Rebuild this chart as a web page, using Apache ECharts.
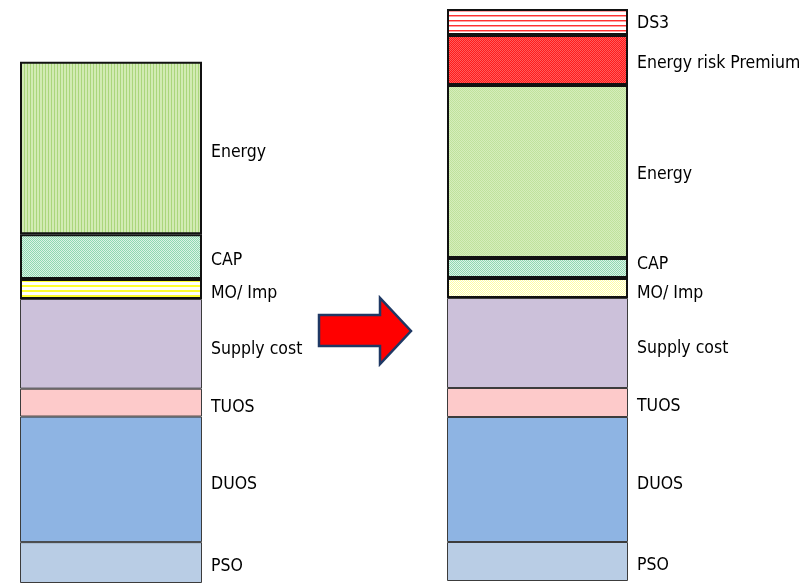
<!DOCTYPE html>
<html>
<head>
<meta charset="utf-8">
<script src="https://cdn.jsdelivr.net/npm/echarts@6/dist/echarts.min.js"></script>
<style>
html,body{margin:0;padding:0;background:#fff;}
#chart{width:812px;height:583px;}
</style>
</head>
<body>
<div id="chart"></div>
<script>
// ---- data (bottom to top) ----
var leftNames  = ['PSO','DUOS','TUOS','Supply cost','MO/ Imp','CAP','Energy'];
var leftValues = [41, 126, 28, 90, 20, 45, 173];
var rightNames  = ['PSO','DUOS','TUOS','Supply cost','MO/ Imp','CAP','Energy','Energy risk Premium','DS3'];
var rightValues = [39, 125, 29, 90, 20, 20, 173, 50, 26];
var barCategories = ['Before','After'];

// ---- styles ----
function pat(w, h, draw) {
  var c = document.createElement('canvas');
  c.width = w; c.height = h;
  var g = c.getContext('2d');
  draw(g);
  return { image: c, repeat: 'repeat' };
}
function checker(a, b) {
  return pat(2, 2, function (g) {
    g.fillStyle = a; g.fillRect(0, 0, 2, 2);
    g.fillStyle = b; g.fillRect(0, 0, 1, 1); g.fillRect(1, 1, 1, 1);
  });
}
var fills = {
  leftEnergy: pat(3, 1, function (g) { g.fillStyle = '#d2ebb4'; g.fillRect(0,0,3,1); g.fillStyle = '#aad67c'; g.fillRect(0,0,1,1); }),
  cap: checker('#dcf3e6', '#8fd8b1'),
  leftMO: pat(1, 5, function (g) { g.fillStyle = '#ffffff'; g.fillRect(0,0,1,5); g.fillStyle = '#ffff30'; g.fillRect(0,0,1,2); }),
  rightEnergy: checker('#d6edbc', '#bfe29c'),
  rightMO: checker('#ffffff', '#ffffa0'),
  erp: checker('#ff1a1a', '#ff5c5c'),
  ds3: pat(1, 5, function (g) { g.fillStyle = '#ffffff'; g.fillRect(0,0,1,5); g.fillStyle = '#ff3030'; g.fillRect(0,0,1,1); g.fillStyle = '#ffa0a0'; g.fillRect(0,1,1,1); }),
  supply: '#ccc1da',
  tuos: '#fdcaca',
  duos: '#8eb4e3',
  pso: '#b9cde5'
};
var leftFill  = [fills.pso, fills.duos, fills.tuos, fills.supply, fills.leftMO, fills.cap, fills.leftEnergy];
var rightFill = [fills.pso, fills.duos, fills.tuos, fills.supply, fills.rightMO, fills.cap, fills.rightEnergy, fills.erp, fills.ds3];
var rightLabelShift = [4, 5, 4, 5, 5, -4, 3, 3, 1];
var leftLabelShift  = [4, 5, 5, 6, 4, 4, 4];

var labelFont = {
  fontFamily: '"DejaVu Sans Condensed", "Liberation Sans Narrow", sans-serif',
  fontSize: 17.5,
  color: '#000'
};

function buildSeries(names, values, fillArr, shifts, axisIdx, stackId) {
  return names.map(function (n, i) {
    var upper = i >= 4;
    return {
      type: 'bar',
      name: n,
      stack: stackId,
      xAxisIndex: axisIdx,
      yAxisIndex: axisIdx,
      barWidth: '100%',
      data: [values[i]],
      itemStyle: {
        color: fillArr[i],
        borderColor: upper ? '#111' : '#3c3c3c',
        borderWidth: upper ? 2 : 1
      },
      label: Object.assign({
        show: true,
        position: 'right',
        distance: 9,
        offset: [0, shifts[i]],
        formatter: n
      }, labelFont),
      emphasis: { disabled: true },
      animation: false
    };
  });
}

var chart = echarts.init(document.getElementById('chart'), null, { renderer: 'canvas' });
chart.setOption({
  backgroundColor: '#fff',
  animation: false,
  grid: [
    { left: 20, top: 0, width: 182, height: 585 },
    { left: 447, top: 0, width: 181, height: 581 }
  ],
  xAxis: [
    { type: 'category', gridIndex: 0, data: [barCategories[0]], show: false },
    { type: 'category', gridIndex: 1, data: [barCategories[1]], show: false }
  ],
  yAxis: [
    { type: 'value', gridIndex: 0, min: 0, max: 585, show: false },
    { type: 'value', gridIndex: 1, min: 0, max: 581, show: false }
  ],
  series: buildSeries(leftNames, leftValues, leftFill, leftLabelShift, 0, 'L')
    .concat(buildSeries(rightNames, rightValues, rightFill, rightLabelShift, 1, 'R')),
  graphic: [{
    type: 'polygon',
    shape: { points: [[319,315],[380,315],[380,298],[411,331],[380,364],[380,346],[319,346]] },
    style: { fill: '#ff0000', stroke: '#1f3864', lineWidth: 2.5 }
  }]
});
</script>
</body>
</html>
